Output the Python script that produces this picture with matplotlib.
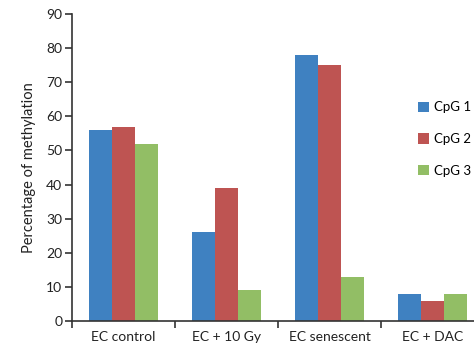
import numpy as np
import matplotlib.pyplot as plt

# data
categories = ["EC control", "EC + 10 Gy", "EC senescent", "EC + DAC"]
series = ["CpG 1", "CpG 2", "CpG 3"]
cpg1 = [56, 26, 78, 8]
cpg2 = [57, 39, 75, 6]
cpg3 = [52, 9, 13, 8]
colors = ["#3F81C1", "#BE5452", "#92BE65"]

plt.rcParams['font.family'] = ['Lato', 'DejaVu Sans']

W, H = 474, 349
fig = plt.figure(figsize=(W / 100, H / 100), dpi=100)
ax = fig.add_axes([72 / W, 1 - 321 / H, (474 - 72) / W, (321 - 14) / H])

x = np.arange(len(categories))
bw = 23 / 103
for i, (vals, name, c) in enumerate(zip([cpg1, cpg2, cpg3], series, colors)):
    ax.bar(x + (i - 1) * bw, vals, width=bw, color=c, label=name)

ax.set_xlim(-0.5, 3.5 - 10 / 103)
ax.set_ylim(0, 90)
ax.set_yticks(range(0, 91, 10))
ax.set_xticks(np.arange(-0.5, 3.5, 1))
ax.set_xticklabels([])
ax.set_xticks(x, minor=True)
ax.set_xticklabels(categories, minor=True)
ax.tick_params(axis='x', which='minor', length=0, pad=7, labelsize=10, colors='#222222')
ax.tick_params(axis='x', which='major', length=5, width=1.2, color='#333333')
ax.tick_params(axis='y', length=5, width=1.2, labelsize=10, colors='#222222', pad=2)
ax.tick_params(axis='y', color='#333333')
for s in ['top', 'right']:
    ax.spines[s].set_visible(False)
for s in ['left', 'bottom']:
    ax.spines[s].set_linewidth(1.2)
    ax.spines[s].set_color('#333333')
ax.set_ylabel("Percentage of methylation", fontsize=10.5, color='#222222', labelpad=7)

fig.legend(loc='upper left', bbox_to_anchor=(413 / W, 1 - 96 / H), frameon=False,
           fontsize=9.5, handlelength=0.8, handleheight=0.8, handletextpad=0.4,
           labelspacing=1.5, borderaxespad=0)

fig.savefig("out.png", dpi=100)
